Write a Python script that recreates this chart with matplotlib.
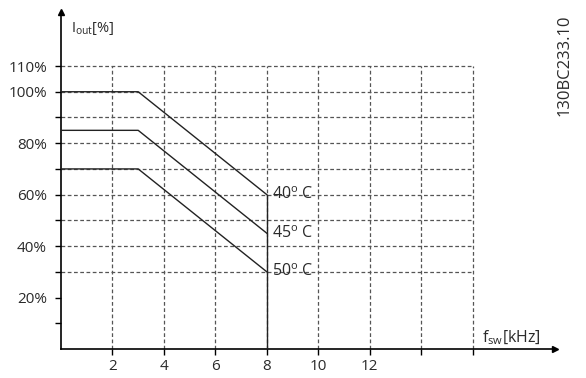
import matplotlib
matplotlib.use("Agg")
import matplotlib.pyplot as plt

plt.rcParams['font.family'] = ['Open Sans', 'DejaVu Sans']
plt.rcParams['mathtext.default'] = 'regular'

# derating curves: output current vs switching frequency
freq = [0, 3, 8]
temps = ['40', '45', '50']
iout = {
    '40': [100, 100, 60],
    '45': [85, 85, 45],
    '50': [70, 70, 30],
}

xticks = [2, 4, 6, 8, 10, 12, 14, 16]
xticklabels = ['2', '4', '6', '8', '10', '12', '', '']
yticks = [10, 20, 30, 40, 50, 60, 70, 80, 90, 100, 110]
yticklabels = ['', '20%', '', '40%', '', '60%', '', '80%', '', '100%', '110%']
hgrid = [30, 40, 50, 60, 70, 80, 90, 100, 110]

txt = '#2a2a2a'
grid_col = '#555555'

fig = plt.figure(figsize=(5.86, 3.78), dpi=100)
ax = fig.add_axes([61 / 586, 29 / 378, 494 / 586, 337 / 378])
ax.set_xlim(0, 19.2)
ax.set_ylim(0, 131)

# dashed grid
for y in hgrid:
    ax.plot([0, 16], [y, y], color=grid_col, lw=0.9, dashes=(3, 2), zorder=1)
for x in xticks:
    ax.plot([x, x], [0, 110], color=grid_col, lw=0.9, dashes=(3, 2), zorder=1)

# curves
for t in temps:
    ax.plot(freq, iout[t], color='#222222', lw=1.0, zorder=3)
    ax.text(freq[-1] + 0.22, iout[t][-1], t + '$^{o}$ C', fontsize=11.5,
            color=txt, ha='left', va='center', zorder=4)
# 40 C curve drops to zero at 8 kHz
ax.plot([freq[-1], freq[-1]], [iout['40'][-1], 0], color='#222222', lw=1.0, zorder=3)

# axes with arrows
for s in ['top', 'right']:
    ax.spines[s].set_visible(False)
ax.spines['left'].set_linewidth(1.2)
ax.spines['bottom'].set_linewidth(1.2)
ax.plot(1, 0, '>', color='k', ms=4, transform=ax.transAxes, clip_on=False)
ax.plot(0, 1, '^', color='k', ms=4, transform=ax.transAxes, clip_on=False)

ax.set_xticks(xticks)
ax.set_xticklabels(xticklabels)
ax.set_yticks(yticks)
ax.set_yticklabels(yticklabels)
ax.tick_params(axis='both', length=4, width=1, colors='k', labelcolor=txt,
               labelsize=11)
ax.tick_params(axis='y', pad=6)
ax.tick_params(axis='x', pad=3)

ax.text(0.4, 124.5, 'I$_{out}$[%]', fontsize=10.5, color=txt, ha='left', va='center')
ax.text(16.35, 4.5, 'f$_{sw}$[kHz]', fontsize=11.5, color=txt, ha='left', va='center')
fig.text(565 / 586, 1 - 65 / 378, '130BC233.10', rotation=90, fontsize=12,
         color=txt, ha='center', va='center')

fig.savefig('out.png', dpi=100)
